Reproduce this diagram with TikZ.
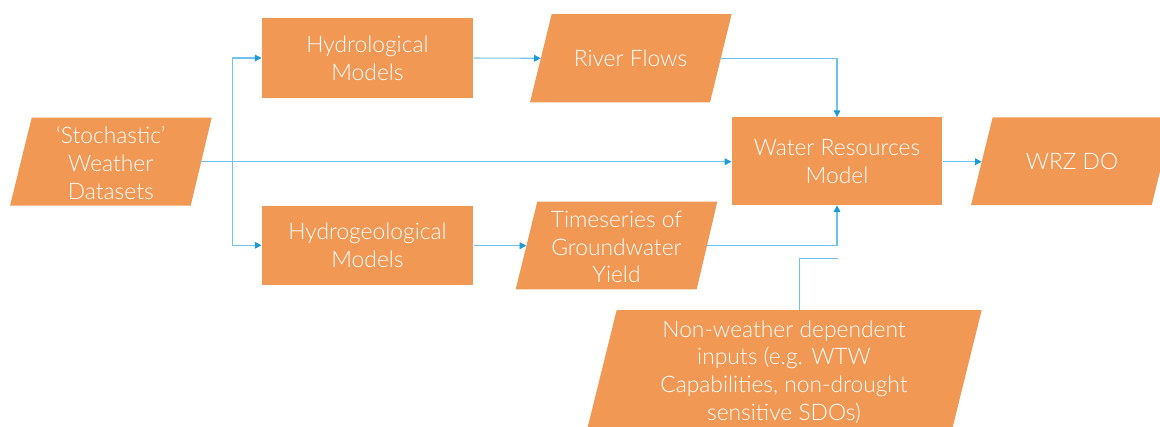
\documentclass[tikz,border=0pt]{standalone}
\usepackage{fontspec}
\setmainfont{Lato}[UprightFont={* Light}]
\usetikzlibrary{arrows.meta}
\definecolor{boxfill}{RGB}{242,152,85}
\definecolor{linec}{RGB}{110,195,238}
\definecolor{tipc}{RGB}{27,155,216}
\newcommand{\mypgram}[6]{\fill[boxfill] (#1,#5) -- (#2,#5) -- (#4,#6) -- (#3,#6) -- cycle;}
\begin{document}
\begin{tikzpicture}[x=0.75pt,y=-0.75pt,
  txt/.style={text=white, align=center, inner sep=0pt, font=\fontsize{17.1}{20.8}\selectfont},
  box/.style={txt, rectangle, fill=boxfill, minimum width=158.6pt, minimum height=59.5pt},
  conn/.style={draw=linec, line width=0.8pt, -{Triangle[length=5pt,width=5pt,color=tipc,fill=tipc]}},
  plain/.style={draw=linec, line width=0.8pt}]
\useasboundingbox (0,0) rectangle (1160,426);
\clip (0,0) rectangle (1160,426);
% parallelograms (TL, TR, BL, BR, top, bottom)
\mypgram{31.7}{211.7}{10}{190.7}{117.7}{205.7}
\mypgram{551.7}{731.7}{530}{710}{14}{102.3}
\mypgram{537.3}{717.3}{515.7}{696.7}{201.7}{289.3}
\mypgram{992.7}{1173.4}{971}{1151.7}{117.3}{205}
\mypgram{616.7}{981.7}{586}{951}{310}{434}
% rectangles
\node[box] (hm) at (367.5,58) {Hydrological\\Models};
\node[box] (hg) at (367.5,245.3) {Hydrogeological\\Models};
\node[box, minimum width=158pt, minimum height=65.8pt] (wrm) at (837,161.2) {Water Resources\\Model};
% texts of parallelograms
\node[txt] (sw) at (110.8,163) {‘Stochastic’\\Weather\\Datasets};
\node[txt] (rf) at (630.5,58.5) {River Flows};
\node[txt] (ts) at (616.5,247) {Timeseries of\\Groundwater\\Yield};
\node[txt] (wrz) at (1072,161.5) {WRZ DO};
\node[txt] (nw) at (784,372) {Non-weather dependent\\inputs (e.g. WTW\\Capabilities, non-drought\\sensitive SDOs)};
% connector end points on slanted edges
\coordinate (sw-out) at (200.8,161.7);
\coordinate (split) at (232.5,161.7);
\coordinate (rf-in) at (540.8,58.3);
\coordinate (rf-out) at (720.9,58.3);
\coordinate (ts-in) at (526.4,245.7);
\coordinate (ts-out) at (706.5,245.7);
\coordinate (wrz-in) at (981.7,161.7);
\coordinate (nw-top) at (799.3,310);
\coordinate (join) at (837.5,258.3);
% connectors
\draw[conn] (sw-out) -- (wrm.west |- sw-out);
\draw[conn] (split) |- (hm.west);
\draw[conn] (split) |- (hg.west);
\draw[conn] (hm.east) -- (rf-in);
\draw[conn] (hg.east |- ts-in) -- (ts-in);
\draw[conn] (rf-out) -| (wrm.north);
\draw[conn] (ts-out) -| (wrm.south);
\draw[plain] (nw-top) |- (join);
\draw[conn] (wrm.east |- wrz-in) -- (wrz-in);
\end{tikzpicture}
\end{document}
